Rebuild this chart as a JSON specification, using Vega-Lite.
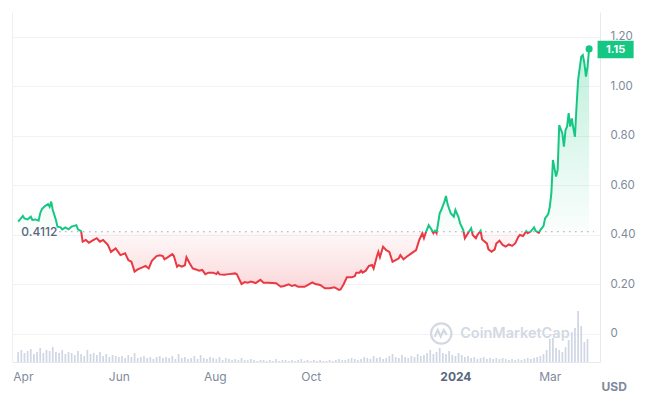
{
"$schema":"https://vega.github.io/schema/vega-lite/v6.json",
"width":588,"height":350,
"autosize":"none",
"padding":{"left":12,"top":12,"right":49,"bottom":35},
"background":"white",
"config":{"view":{"stroke":null},"font":"Inter"},
"datasets":{
"price":[
{"d":"2023-03-29","p":0.452},{"d":"2023-04-01","p":0.475},{"d":"2023-04-02","p":0.465},{"d":"2023-04-04","p":0.461},{"d":"2023-04-06","p":0.472},{"d":"2023-04-07","p":0.459},{"d":"2023-04-09","p":0.461},{"d":"2023-04-11","p":0.456},{"d":"2023-04-12","p":0.486},{"d":"2023-04-13","p":0.502},{"d":"2023-04-15","p":0.515},{"d":"2023-04-17","p":0.523},{"d":"2023-04-18","p":0.512},{"d":"2023-04-19","p":0.533},{"d":"2023-04-20","p":0.499},{"d":"2023-04-22","p":0.459},{"d":"2023-04-23","p":0.432},{"d":"2023-04-25","p":0.429},{"d":"2023-04-26","p":0.421},{"d":"2023-04-28","p":0.429},{"d":"2023-04-30","p":0.421},
{"d":"2023-05-02","p":0.432},{"d":"2023-05-05","p":0.438},{"d":"2023-05-06","p":0.421},{"d":"2023-05-08","p":0.414},{"d":"2023-05-09","p":0.371},{"d":"2023-05-11","p":0.378},{"d":"2023-05-13","p":0.367},{"d":"2023-05-16","p":0.378},{"d":"2023-05-18","p":0.385},{"d":"2023-05-20","p":0.371},{"d":"2023-05-22","p":0.378},{"d":"2023-05-25","p":0.358},{"d":"2023-05-27","p":0.330},{"d":"2023-05-30","p":0.344},
{"d":"2023-06-02","p":0.317},{"d":"2023-06-05","p":0.324},{"d":"2023-06-07","p":0.297},{"d":"2023-06-09","p":0.290},{"d":"2023-06-11","p":0.250},{"d":"2023-06-13","p":0.259},{"d":"2023-06-16","p":0.267},{"d":"2023-06-18","p":0.273},{"d":"2023-06-20","p":0.263},{"d":"2023-06-22","p":0.294},{"d":"2023-06-25","p":0.313},{"d":"2023-06-27","p":0.316},{"d":"2023-06-29","p":0.313},{"d":"2023-06-30","p":0.300},
{"d":"2023-07-02","p":0.308},{"d":"2023-07-05","p":0.321},{"d":"2023-07-06","p":0.313},{"d":"2023-07-08","p":0.270},{"d":"2023-07-09","p":0.276},{"d":"2023-07-11","p":0.270},{"d":"2023-07-13","p":0.276},{"d":"2023-07-14","p":0.308},{"d":"2023-07-16","p":0.284},{"d":"2023-07-18","p":0.263},{"d":"2023-07-20","p":0.259},{"d":"2023-07-22","p":0.254},{"d":"2023-07-24","p":0.257},{"d":"2023-07-26","p":0.240},{"d":"2023-07-28","p":0.246},{"d":"2023-07-31","p":0.246},
{"d":"2023-08-02","p":0.240},{"d":"2023-08-03","p":0.248},{"d":"2023-08-04","p":0.239},{"d":"2023-08-07","p":0.238},{"d":"2023-08-10","p":0.240},{"d":"2023-08-14","p":0.243},{"d":"2023-08-15","p":0.240},{"d":"2023-08-18","p":0.200},{"d":"2023-08-20","p":0.208},{"d":"2023-08-22","p":0.205},{"d":"2023-08-24","p":0.210},{"d":"2023-08-27","p":0.204},{"d":"2023-08-30","p":0.217},
{"d":"2023-09-01","p":0.205},{"d":"2023-09-04","p":0.205},{"d":"2023-09-09","p":0.203},{"d":"2023-09-12","p":0.189},{"d":"2023-09-14","p":0.192},{"d":"2023-09-17","p":0.199},{"d":"2023-09-19","p":0.192},{"d":"2023-09-21","p":0.196},{"d":"2023-09-23","p":0.189},{"d":"2023-09-27","p":0.189},{"d":"2023-09-29","p":0.196},
{"d":"2023-10-02","p":0.207},{"d":"2023-10-04","p":0.200},{"d":"2023-10-07","p":0.196},{"d":"2023-10-10","p":0.183},{"d":"2023-10-13","p":0.183},{"d":"2023-10-16","p":0.187},{"d":"2023-10-19","p":0.176},{"d":"2023-10-20","p":0.178},{"d":"2023-10-22","p":0.200},{"d":"2023-10-24","p":0.227},{"d":"2023-10-27","p":0.227},{"d":"2023-10-29","p":0.232},{"d":"2023-10-30","p":0.246},
{"d":"2023-11-01","p":0.246},{"d":"2023-11-02","p":0.254},{"d":"2023-11-03","p":0.246},{"d":"2023-11-05","p":0.254},{"d":"2023-11-07","p":0.273},{"d":"2023-11-09","p":0.277},{"d":"2023-11-10","p":0.263},{"d":"2023-11-12","p":0.310},{"d":"2023-11-13","p":0.330},{"d":"2023-11-14","p":0.308},{"d":"2023-11-16","p":0.351},{"d":"2023-11-18","p":0.337},{"d":"2023-11-20","p":0.330},{"d":"2023-11-22","p":0.290},{"d":"2023-11-24","p":0.297},{"d":"2023-11-26","p":0.304},{"d":"2023-11-27","p":0.317},{"d":"2023-11-29","p":0.300},
{"d":"2023-12-01","p":0.310},{"d":"2023-12-04","p":0.324},{"d":"2023-12-07","p":0.337},{"d":"2023-12-09","p":0.378},{"d":"2023-12-11","p":0.405},{"d":"2023-12-12","p":0.385},{"d":"2023-12-13","p":0.405},{"d":"2023-12-15","p":0.438},{"d":"2023-12-17","p":0.418},{"d":"2023-12-18","p":0.405},{"d":"2023-12-19","p":0.415},{"d":"2023-12-20","p":0.405},{"d":"2023-12-22","p":0.486},{"d":"2023-12-23","p":0.499},{"d":"2023-12-25","p":0.533},{"d":"2023-12-26","p":0.556},{"d":"2023-12-27","p":0.523},{"d":"2023-12-29","p":0.486},{"d":"2023-12-31","p":0.472},
{"d":"2024-01-01","p":0.499},{"d":"2024-01-03","p":0.469},{"d":"2024-01-04","p":0.445},{"d":"2024-01-06","p":0.418},{"d":"2024-01-07","p":0.385},{"d":"2024-01-09","p":0.405},{"d":"2024-01-11","p":0.425},{"d":"2024-01-12","p":0.398},{"d":"2024-01-14","p":0.385},{"d":"2024-01-15","p":0.398},{"d":"2024-01-17","p":0.415},{"d":"2024-01-18","p":0.380},{"d":"2024-01-21","p":0.364},{"d":"2024-01-22","p":0.340},{"d":"2024-01-24","p":0.330},{"d":"2024-01-26","p":0.340},{"d":"2024-01-27","p":0.364},{"d":"2024-01-29","p":0.375},{"d":"2024-01-31","p":0.358},
{"d":"2024-02-02","p":0.351},{"d":"2024-02-04","p":0.360},{"d":"2024-02-06","p":0.354},{"d":"2024-02-08","p":0.364},{"d":"2024-02-10","p":0.391},{"d":"2024-02-11","p":0.398},{"d":"2024-02-13","p":0.394},{"d":"2024-02-15","p":0.413},{"d":"2024-02-16","p":0.405},{"d":"2024-02-18","p":0.413},{"d":"2024-02-20","p":0.429},{"d":"2024-02-21","p":0.415},{"d":"2024-02-23","p":0.407},{"d":"2024-02-24","p":0.418},{"d":"2024-02-26","p":0.434},{"d":"2024-02-27","p":0.465},{"d":"2024-02-29","p":0.483},
{"d":"2024-03-01","p":0.512},{"d":"2024-03-02","p":0.566},{"d":"2024-03-03","p":0.701},{"d":"2024-03-05","p":0.634},{"d":"2024-03-06","p":0.661},{"d":"2024-03-07","p":0.842},{"d":"2024-03-09","p":0.809},{"d":"2024-03-10","p":0.755},{"d":"2024-03-11","p":0.822},{"d":"2024-03-12","p":0.836},{"d":"2024-03-13","p":0.890},{"d":"2024-03-14","p":0.836},{"d":"2024-03-15","p":0.869},{"d":"2024-03-16","p":0.829},{"d":"2024-03-17","p":0.795},{"d":"2024-03-18","p":0.916},{"d":"2024-03-19","p":1.024},{"d":"2024-03-21","p":1.118},{"d":"2024-03-22","p":1.125},{"d":"2024-03-23","p":1.092},{"d":"2024-03-24","p":1.038},{"d":"2024-03-25","p":1.078},{"d":"2024-03-26","p":1.150}
],
"vol":[
{"d":"2023-03-29","v":10},{"d":"2023-03-31","v":12},{"d":"2023-04-02","v":9},{"d":"2023-04-04","v":11},{"d":"2023-04-06","v":13},{"d":"2023-04-08","v":8},{"d":"2023-04-10","v":10},{"d":"2023-04-12","v":14},{"d":"2023-04-14","v":9},{"d":"2023-04-16","v":12},{"d":"2023-04-18","v":11},{"d":"2023-04-20","v":15},{"d":"2023-04-22","v":10},{"d":"2023-04-24","v":9},{"d":"2023-04-26","v":12},{"d":"2023-04-28","v":8},{"d":"2023-04-30","v":10},
{"d":"2023-05-02","v":9},{"d":"2023-05-04","v":7},{"d":"2023-05-06","v":11},{"d":"2023-05-08","v":8},{"d":"2023-05-10","v":6},{"d":"2023-05-12","v":12},{"d":"2023-05-14","v":8},{"d":"2023-05-16","v":9},{"d":"2023-05-18","v":7},{"d":"2023-05-20","v":10},{"d":"2023-05-22","v":6},{"d":"2023-05-24","v":8},{"d":"2023-05-26","v":5},{"d":"2023-05-28","v":7},{"d":"2023-05-30","v":6},
{"d":"2023-06-01","v":5},{"d":"2023-06-03","v":6},{"d":"2023-06-05","v":4},{"d":"2023-06-07","v":7},{"d":"2023-06-09","v":5},{"d":"2023-06-11","v":9},{"d":"2023-06-13","v":4},{"d":"2023-06-15","v":5},{"d":"2023-06-17","v":6},{"d":"2023-06-19","v":4},{"d":"2023-06-21","v":5},{"d":"2023-06-23","v":3},{"d":"2023-06-25","v":5},{"d":"2023-06-27","v":6},{"d":"2023-06-29","v":4},
{"d":"2023-07-01","v":5},{"d":"2023-07-03","v":4},{"d":"2023-07-05","v":6},{"d":"2023-07-07","v":3},{"d":"2023-07-09","v":8},{"d":"2023-07-11","v":4},{"d":"2023-07-13","v":5},{"d":"2023-07-15","v":3},{"d":"2023-07-17","v":4},{"d":"2023-07-19","v":6},{"d":"2023-07-21","v":3},{"d":"2023-07-23","v":7},{"d":"2023-07-25","v":4},{"d":"2023-07-27","v":3},{"d":"2023-07-29","v":5},{"d":"2023-07-31","v":4},
{"d":"2023-08-02","v":3},{"d":"2023-08-04","v":5},{"d":"2023-08-06","v":2},{"d":"2023-08-08","v":4},{"d":"2023-08-10","v":3},{"d":"2023-08-12","v":2},{"d":"2023-08-14","v":3},{"d":"2023-08-16","v":2},{"d":"2023-08-18","v":4},{"d":"2023-08-20","v":2},{"d":"2023-08-22","v":2},{"d":"2023-08-24","v":3},{"d":"2023-08-26","v":2},{"d":"2023-08-28","v":1},{"d":"2023-08-30","v":2},
{"d":"2023-09-01","v":2},{"d":"2023-09-03","v":1},{"d":"2023-09-05","v":2},{"d":"2023-09-07","v":1},{"d":"2023-09-09","v":3},{"d":"2023-09-11","v":1},{"d":"2023-09-13","v":2},{"d":"2023-09-15","v":2},{"d":"2023-09-17","v":1},{"d":"2023-09-19","v":2},{"d":"2023-09-21","v":1},{"d":"2023-09-23","v":2},{"d":"2023-09-25","v":3},{"d":"2023-09-27","v":1},{"d":"2023-09-29","v":2},
{"d":"2023-10-01","v":1},{"d":"2023-10-03","v":2},{"d":"2023-10-05","v":1},{"d":"2023-10-07","v":2},{"d":"2023-10-09","v":1},{"d":"2023-10-11","v":1},{"d":"2023-10-13","v":2},{"d":"2023-10-15","v":1},{"d":"2023-10-17","v":2},{"d":"2023-10-19","v":3},{"d":"2023-10-21","v":2},{"d":"2023-10-23","v":2},{"d":"2023-10-25","v":3},{"d":"2023-10-27","v":4},{"d":"2023-10-29","v":3},{"d":"2023-10-31","v":2},
{"d":"2023-11-02","v":3},{"d":"2023-11-04","v":5},{"d":"2023-11-06","v":4},{"d":"2023-11-08","v":3},{"d":"2023-11-10","v":6},{"d":"2023-11-12","v":4},{"d":"2023-11-14","v":5},{"d":"2023-11-16","v":3},{"d":"2023-11-18","v":4},{"d":"2023-11-20","v":6},{"d":"2023-11-22","v":8},{"d":"2023-11-24","v":5},{"d":"2023-11-26","v":4},{"d":"2023-11-28","v":7},{"d":"2023-11-30","v":5},
{"d":"2023-12-02","v":4},{"d":"2023-12-04","v":6},{"d":"2023-12-06","v":5},{"d":"2023-12-08","v":8},{"d":"2023-12-10","v":6},{"d":"2023-12-12","v":7},{"d":"2023-12-14","v":9},{"d":"2023-12-16","v":12},{"d":"2023-12-18","v":8},{"d":"2023-12-20","v":10},{"d":"2023-12-22","v":14},{"d":"2023-12-24","v":9},{"d":"2023-12-26","v":8},{"d":"2023-12-28","v":11},{"d":"2023-12-30","v":7},
{"d":"2024-01-01","v":6},{"d":"2024-01-03","v":9},{"d":"2024-01-05","v":7},{"d":"2024-01-07","v":5},{"d":"2024-01-09","v":6},{"d":"2024-01-11","v":4},{"d":"2024-01-13","v":5},{"d":"2024-01-15","v":3},{"d":"2024-01-17","v":4},{"d":"2024-01-19","v":5},{"d":"2024-01-21","v":3},{"d":"2024-01-23","v":4},{"d":"2024-01-25","v":3},{"d":"2024-01-27","v":4},{"d":"2024-01-29","v":3},{"d":"2024-01-31","v":4},
{"d":"2024-02-02","v":3},{"d":"2024-02-04","v":2},{"d":"2024-02-06","v":3},{"d":"2024-02-08","v":2},{"d":"2024-02-10","v":3},{"d":"2024-02-12","v":2},{"d":"2024-02-14","v":3},{"d":"2024-02-16","v":4},{"d":"2024-02-18","v":3},{"d":"2024-02-20","v":4},{"d":"2024-02-22","v":5},{"d":"2024-02-24","v":6},{"d":"2024-02-26","v":8},{"d":"2024-02-28","v":12},
{"d":"2024-03-01","v":23},{"d":"2024-03-03","v":24},{"d":"2024-03-05","v":14},{"d":"2024-03-07","v":12},{"d":"2024-03-09","v":10},{"d":"2024-03-11","v":15},{"d":"2024-03-13","v":22},{"d":"2024-03-15","v":30},{"d":"2024-03-17","v":34},{"d":"2024-03-19","v":51},{"d":"2024-03-21","v":36},{"d":"2024-03-23","v":20},{"d":"2024-03-25","v":23}
],
"last":[{"d":"2024-03-26","p":1.15,"t":"1.15"}],
"base":[{"d":"2023-04-24","d2":"2024-03-29","p":0.4112}],
"lbl":[{"d":"2023-03-31","p":0.4112,"t":"0.4112"}],
"logo":[{"d":"2023-12-23","p":0}],
"wm":[{"d":"2024-01-04","p":0,"t":"CoinMarketCap"}]
},
"encoding":{"x":{"field":"d","type":"temporal",
 "scale":{"type":"utc","domain":[{"year":2023,"month":3,"date":28,"hours":6,"utc":true},{"year":2024,"month":3,"date":29,"hours":18,"utc":true}]},
 "axis":{"values":[{"year":2023,"month":4,"date":1,"utc":true},{"year":2023,"month":6,"date":1,"utc":true},{"year":2023,"month":8,"date":1,"utc":true},{"year":2023,"month":10,"date":1,"utc":true},{"year":2024,"month":1,"date":1,"utc":true},{"year":2024,"month":3,"date":1,"utc":true}],
  "labelExpr":"utcmonth(datum.value) == 0 ? utcFormat(datum.value, '%Y') : utcFormat(datum.value, '%b')",
  "labelFontWeight":{"condition":{"test":"utcmonth(datum.value) == 0","value":"bold"},"value":"normal"},
  "labelColor":{"condition":{"test":"utcmonth(datum.value) == 0","value":"#58667e"},"value":"#808a9d"},
  "labelFont":"Inter","labelFontSize":12,"labelPadding":9,"labelFlush":false,
  "ticks":false,"grid":false,"domain":true,"domainColor":"#e6e9ee",
  "title":"USD","titleFont":"Inter","titleFontSize":12,"titleFontWeight":"bold","titleColor":"#808a9d",
  "titleX":589,"titleY":24,"titleAlign":"left","titleBaseline":"middle","titleAnchor":"start"}}},
"layer":[
 {"data":{"name":"vol"},"mark":{"type":"bar","width":1.7,"color":"#cfd6e4"},
  "encoding":{"y":{"field":"v","type":"quantitative","scale":{"domain":[0,350]},
   "axis":{"orient":"left","labels":false,"ticks":false,"grid":false,"domain":true,"domainColor":"#eceff3","title":null}}}},
 {"encoding":{"y":{"field":"p","type":"quantitative","scale":{"domain":[-0.115,1.299]},
   "axis":{"orient":"right","values":[0,0.2,0.4,0.6,0.8,1,1.2],"labelExpr":"datum.value == 0 ? '0' : format(datum.value, '.2f')",
    "grid":true,"gridColor":"#f0f2f5","ticks":false,"domain":true,"domainColor":"#e6e9ee","labelPadding":10,
    "labelColor":"#808a9d","labelFont":"Inter","labelFontSize":11.5,"labelAlign":"left","labelBaseline":"middle","title":null}}},
  "layer":[
   {"data":{"name":"price"},"mark":{"type":"area","fill":{"gradient":"linear","x1":0,"y1":0,"x2":0,"y2":1,"stops":[{"offset":0,"color":"rgba(22,199,132,0.28)"},{"offset":0.7585,"color":"rgba(22,199,132,0.02)"},{"offset":0.7585,"color":"rgba(234,57,67,0.03)"},{"offset":1,"color":"rgba(234,57,67,0.2)"}]}},
    "encoding":{"y2":{"datum":0.4112}}},
   {"data":{"name":"base"},"mark":{"type":"rule","color":"#9aa2b1","strokeWidth":1,"strokeDash":[1.5,4.5]},
    "encoding":{"x2":{"field":"d2"}}},
   {"data":{"name":"price"},"mark":{"type":"line","strokeWidth":2,"stroke":{"gradient":"linear","x1":0,"y1":0,"x2":0,"y2":1,"stops":[{"offset":0,"color":"#16c784"},{"offset":0.7585,"color":"#16c784"},{"offset":0.7585,"color":"#ea3943"},{"offset":1,"color":"#ea3943"}]}}},
   {"data":{"name":"last"},"mark":{"type":"point","shape":"circle","filled":true,"size":50,"color":"#16c784","opacity":1}},
   {"data":{"name":"last"},"mark":{"type":"point","shape":"M-1,-0.48L1,-0.48L1,0.48L-1,0.48Z","filled":true,"size":1300,"color":"#16c784","opacity":1,"xOffset":26.5,"yOffset":0.6}},
   {"data":{"name":"last"},"mark":{"type":"text","dx":26.5,"dy":1.5,"align":"center","baseline":"middle","color":"white","fontWeight":"bold","fontSize":11,"font":"Inter"},
    "encoding":{"text":{"field":"t"}}},
   {"data":{"name":"lbl"},"mark":{"type":"text","align":"left","baseline":"middle","color":"#58667e","fontSize":12,"fontWeight":500,"font":"Inter"},
    "encoding":{"text":{"field":"t"}}},
   {"data":{"name":"logo"},"mark":{"type":"point","shape":"circle","filled":false,"size":415,"stroke":"#d3d9e3","strokeWidth":2.2,"opacity":1}},
   {"data":{"name":"logo"},"mark":{"type":"point","shape":"M-0.6,0.3L-0.32,-0.32L-0.05,0.28L0.22,-0.32L0.5,0.12","filled":false,"size":484,"stroke":"#d3d9e3","strokeWidth":2.2,"opacity":1}},
   {"data":{"name":"wm"},"mark":{"type":"text","align":"left","baseline":"middle","color":"#d3d9e3","fontSize":14.5,"fontWeight":600,"font":"Inter"},
    "encoding":{"text":{"field":"t"}}}
  ]}
],
"resolve":{"scale":{"y":"independent"}}
}
